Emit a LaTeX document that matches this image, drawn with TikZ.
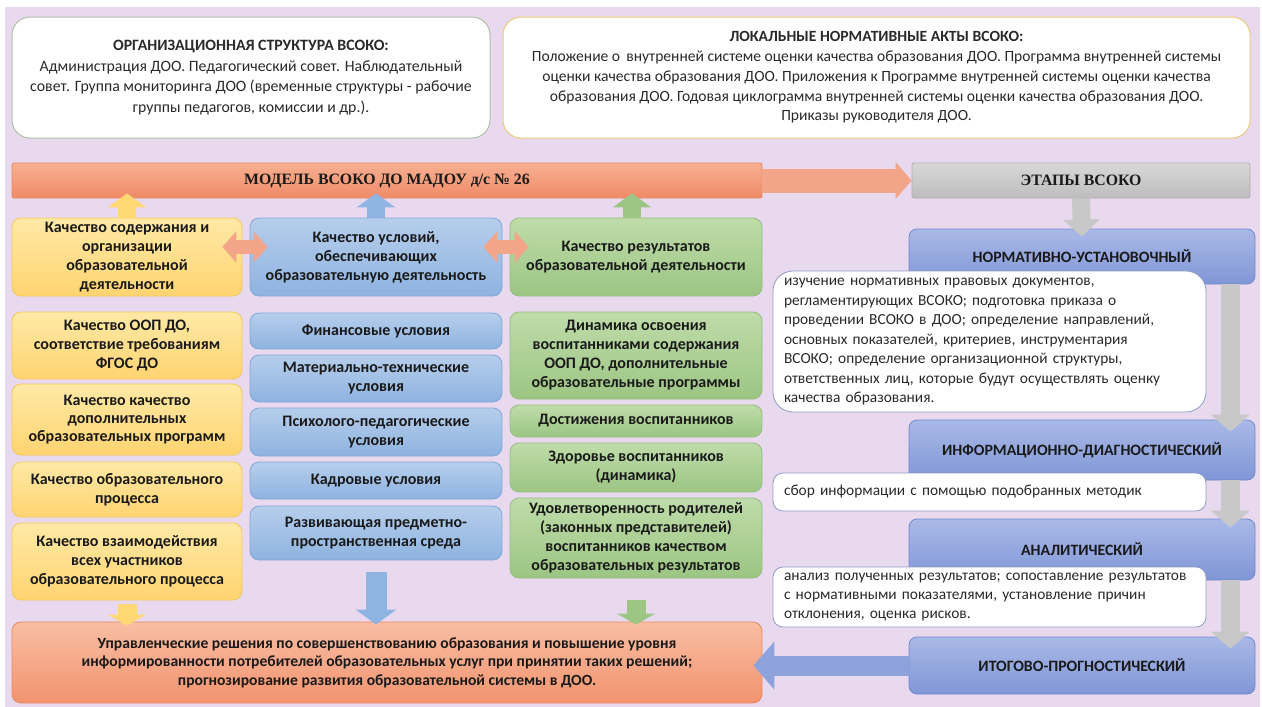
\documentclass[tikz,border=0pt]{standalone}
\usepackage{fontspec}
\setmainfont{Carlito}
\newfontfamily\serifhead{Liberation Serif}
\usetikzlibrary{arrows.meta}

\definecolor{lavender}{HTML}{E9D9EF}
\definecolor{txt}{HTML}{1A1A1A}
\definecolor{notetxt}{HTML}{2A2A2A}
\definecolor{orgline}{HTML}{AFC2A6}
\definecolor{actline}{HTML}{EBCB7A}
\definecolor{ytop}{HTML}{FFE9A6}
\definecolor{ybot}{HTML}{FFD471}
\definecolor{yline}{HTML}{F4C85C}
\definecolor{btop}{HTML}{B6CEEC}
\definecolor{bbot}{HTML}{8EB3E0}
\definecolor{bline}{HTML}{84A8D8}
\definecolor{gtop}{HTML}{BFDCAA}
\definecolor{gbot}{HTML}{9CC583}
\definecolor{gline}{HTML}{96BF7D}
\definecolor{otop}{HTML}{F7B092}
\definecolor{obot}{HTML}{EF8A66}
\definecolor{oline}{HTML}{E58A62}
\definecolor{rtop}{HTML}{F9BEA4}
\definecolor{rbot}{HTML}{F2936E}
\definecolor{grtop}{HTML}{D8D8D8}
\definecolor{grbot}{HTML}{BDBDBD}
\definecolor{grline}{HTML}{AFAFAF}
\definecolor{stop}{HTML}{A9B9E7}
\definecolor{sbot}{HTML}{8096D6}
\definecolor{sline}{HTML}{7189CC}
\definecolor{noteline}{HTML}{8E9CC6}
\definecolor{arrgray}{HTML}{C8C8C8}
\definecolor{arrorange}{HTML}{F3A58A}
\definecolor{arryellow}{HTML}{FFD873}
\definecolor{arrblue}{HTML}{90B4E1}
\definecolor{arrgreen}{HTML}{9DC685}
\definecolor{arrstage}{HTML}{8EA3DC}

\begin{document}
\begin{tikzpicture}[x=1pt,y=-1pt,
    topbox/.style={rounded corners=18pt, fill=white, line width=1pt, align=center,
      font=\fontsize{15.8}{20.5}\selectfont, text=notetxt},
    colbox/.style={rounded corners=9pt, line width=0.8pt, align=center, inner sep=2pt,
      font=\bfseries\fontsize{16}{19}\selectfont, text=txt},
    yellowbox/.style={colbox, draw=yline, top color=ytop, bottom color=ybot, minimum width=230pt},
    bluebox/.style={colbox, draw=bline, top color=btop, bottom color=bbot, minimum width=252pt},
    greenbox/.style={colbox, draw=gline, top color=gtop, bottom color=gbot, minimum width=252pt},
    headbar/.style={rounded corners=2pt, line width=0.8pt, minimum height=35pt,
      font=\serifhead\bfseries\fontsize{15.8}{19}\selectfont, text=txt},
    stagebox/.style={rounded corners=8pt, draw=sline, line width=0.8pt, top color=stop, bottom color=sbot,
      minimum width=346pt, font=\bfseries\fontsize{15.8}{19}\selectfont, text=txt},
    notebox/.style={rounded corners=10pt, draw=noteline, line width=0.8pt, fill=white, align=left,
      text width=411pt, inner xsep=11pt, font=\fontsize{15.4}{19.5}\selectfont, text=notetxt},
    fatup/.style={line width=18pt, -{Triangle[length=14pt,width=38pt]}},
    fatdown/.style={line width=19pt, -{Triangle[length=11pt,width=38pt]}},
    fatgray/.style={arrgray, line width=19pt, -{Triangle[length=17pt,width=38pt]}},
    fatboth/.style={arrorange, line width=14pt, {Triangle[length=14pt,width=31pt]}-{Triangle[length=14pt,width=31pt]}}
  ]
  % page and background
  \fill[white] (0,0) rectangle (1262,707);
  \useasboundingbox (0,0) rectangle (1262,707);
  \fill[lavender] (5,7) rectangle (1260,707);

  % top boxes
  \node[topbox, draw=orgline, minimum width=478pt, minimum height=121pt] (org) at (251,77.5)
    {\textbf{ОРГАНИЗАЦИОННАЯ СТРУКТУРА ВСОКО:}\\
     Администрация ДОО. Педагогический совет. Наблюдательный\\
     совет. Группа мониторинга ДОО (временные структуры - рабочие\\
     группы педагогов, комиссии и др.).};
  \node[topbox, draw=actline, minimum width=747pt, minimum height=121pt,
    font=\fontsize{15.6}{19.8}\selectfont] (acts) at (876.5,77.5)
    {\textbf{ЛОКАЛЬНЫЕ НОРМАТИВНЫЕ АКТЫ ВСОКО:}\\
     Положение о\, внутренней системе оценки качества образования ДОО. Программа внутренней системы\\
     оценки качества образования ДОО. Приложения к Программе внутренней системы оценки качества\\
     образования ДОО. Годовая циклограмма внутренней системы оценки качества образования ДОО.\\
     Приказы руководителя ДОО.};

  % header bars
  \node[headbar, draw=oline, top color=otop, bottom color=obot, minimum width=750pt] (model) at (387,180.5)
    {МОДЕЛЬ ВСОКО ДО МАДОУ д/с № 26};
  \node[headbar, draw=grline, top color=grtop, bottom color=grbot, minimum width=338pt] (etapy) at (1081,180.5)
    {ЭТАПЫ ВСОКО};

  % three directions
  \node[yellowbox, minimum height=78pt] (ydir) at (127,257)
    {Качество содержания и\\ организации\\ образовательной\\ деятельности};
  \node[bluebox, minimum height=78pt] (bdir) at (376,257)
    {Качество условий,\\ обеспечивающих\\ образовательную деятельность};
  \node[greenbox, minimum height=78pt] (gdir) at (636,257)
    {Качество результатов\\ образовательной деятельности};

  % yellow column
  \node[yellowbox, minimum height=67pt] (y1) at (127,345.5)
    {Качество ООП ДО,\\ соответствие требованиям\\ ФГОС ДО};
  \node[yellowbox, minimum height=71pt, font=\bfseries\fontsize{16}{18}\selectfont] (y2) at (127,419.5)
    {Качество качество\\ дополнительных\\ образовательных программ};
  \node[yellowbox, minimum height=55pt] (y3) at (127,489.5)
    {Качество образовательного\\ процесса};
  \node[yellowbox, minimum height=77pt] (y4) at (127,561.5)
    {Качество взаимодействия\\ всех участников\\ образовательного процесса};

  % blue column
  \node[bluebox, minimum height=36pt] (b1) at (376,331) {Финансовые условия};
  \node[bluebox, minimum height=47pt] (b2) at (376,378.5) {Материально-технические\\ условия};
  \node[bluebox, minimum height=48pt] (b3) at (376,432) {Психолого-педагогические\\ условия};
  \node[bluebox, minimum height=37pt] (b4) at (376,480.5) {Кадровые условия};
  \node[bluebox, minimum height=54pt] (b5) at (376,533) {Развивающая предметно-\\ пространственная среда};

  % green column
  \node[greenbox, minimum height=87pt] (g1) at (636,355.5)
    {Динамика освоения\\ воспитанниками содержания\\ ООП ДО, дополнительные\\ образовательные программы};
  \node[greenbox, minimum height=32pt] (g2) at (636,421) {Достижения воспитанников};
  \node[greenbox, minimum height=49pt] (g3) at (636,467.5) {Здоровье воспитанников\\ (динамика)};
  \node[greenbox, minimum height=80pt] (g4) at (636,538)
    {Удовлетворенность родителей\\ (законных представителей)\\ воспитанников качеством\\ образовательных результатов};

  % result
  \node[colbox, draw=oline, top color=rtop, bottom color=rbot, minimum width=750pt, minimum height=81pt,
    font=\bfseries\fontsize{15.6}{18.5}\selectfont] (result) at (387,662.5)
    {Управленческие решения по совершенствованию образования и повышение уровня\\
     информированности потребителей образовательных услуг при принятии таких решений;\\
     прогнозирование развития образовательной системы в ДОО.};

  % stages
  \node[stagebox, minimum height=55pt] (s1) at (1082,256.5) {НОРМАТИВНО-УСТАНОВОЧНЫЙ};
  \node[stagebox, minimum height=60pt] (s2) at (1082,450) {ИНФОРМАЦИОННО-ДИАГНОСТИЧЕСКИЙ};
  \node[stagebox, minimum height=61pt] (s3) at (1082,549.5) {АНАЛИТИЧЕСКИЙ};
  \node[stagebox, minimum height=57pt] (s4) at (1082,665.5) {ИТОГОВО-ПРОГНОСТИЧЕСКИЙ};

  % stage notes
  \node[notebox, rounded corners=20pt, minimum height=141pt] (n1) at (989.5,341.5)
    {изучение нормативных правовых документов,\\
     регламентирующих ВСОКО; подготовка приказа о\\
     проведении ВСОКО в ДОО; определение направлений,\\
     основных показателей, критериев, инструментария\\
     ВСОКО; определение организационной структуры,\\
     ответственных лиц, которые будут осуществлять оценку\\
     качества образования.};
  \node[notebox, minimum height=38pt] (n2) at (989.5,492)
    {сбор информации с помощью подобранных методик};
  \node[notebox, minimum height=60pt, font=\fontsize{15.4}{19}\selectfont] (n3) at (989.5,597)
    {анализ полученных результатов; сопоставление результатов\\
     с нормативными показателями, установление причин\\
     отклонения, оценка рисков.};

  % arrows to the model bar
  \draw[fatup, arryellow] (ydir.north) -- ([yshift=5pt]model.south -| ydir.north);
  \draw[fatup, arrblue] (bdir.north) -- ([yshift=5pt]model.south -| bdir.north);
  \draw[fatup, arrgreen] ([xshift=-4pt]gdir.north) -- ([xshift=-4pt,yshift=5pt]model.south -| gdir.north);
  \draw[fatboth] ([xshift=-20pt,yshift=10pt]ydir.east) -- ([xshift=18pt,yshift=10pt]bdir.west);
  \draw[fatboth] ([xshift=-19pt,yshift=10pt]bdir.east) -- ([xshift=19pt,yshift=10pt]gdir.west);

  % model to stages
  \draw[arrorange, line width=24pt, -{Triangle[length=16pt,width=36pt]}] (model.east) -- (etapy.west);
  \draw[arrgray, line width=18pt, -{Triangle[length=17pt,width=36pt]}] (etapy.south) -- ([yshift=-8pt]s1.north);
  \draw[fatgray] ([xshift=-25pt]s1.south east) -- ([xshift=-25pt,yshift=-12pt]s2.north east);
  \draw[fatgray] ([xshift=-25pt]s2.south east) -- ([xshift=-25pt,yshift=-9pt]s3.north east);
  \draw[fatgray] ([xshift=-25pt]s3.south east) -- ([xshift=-25pt,yshift=-12pt]s4.north east);

  % arrows to the result
  \draw[fatdown, arryellow, shorten <=4pt] (y4.south) -- ([yshift=-4pt]result.north -| y4.south);
  \draw[fatdown, arrblue, line width=21pt, -{Triangle[length=15pt,width=40pt]}, shorten <=12pt]
    (b5.south) -- ([yshift=-3pt]result.north -| b5.south);
  \draw[fatdown, arrgreen, shorten <=22pt] (g4.south) -- ([yshift=-3pt]result.north -| g4.south);
  \draw[arrstage, line width=20pt, -{Triangle[length=21pt,width=47pt]}] (s4.west) -- ([xshift=-9pt]result.east |- s4.west);
\end{tikzpicture}
\end{document}
